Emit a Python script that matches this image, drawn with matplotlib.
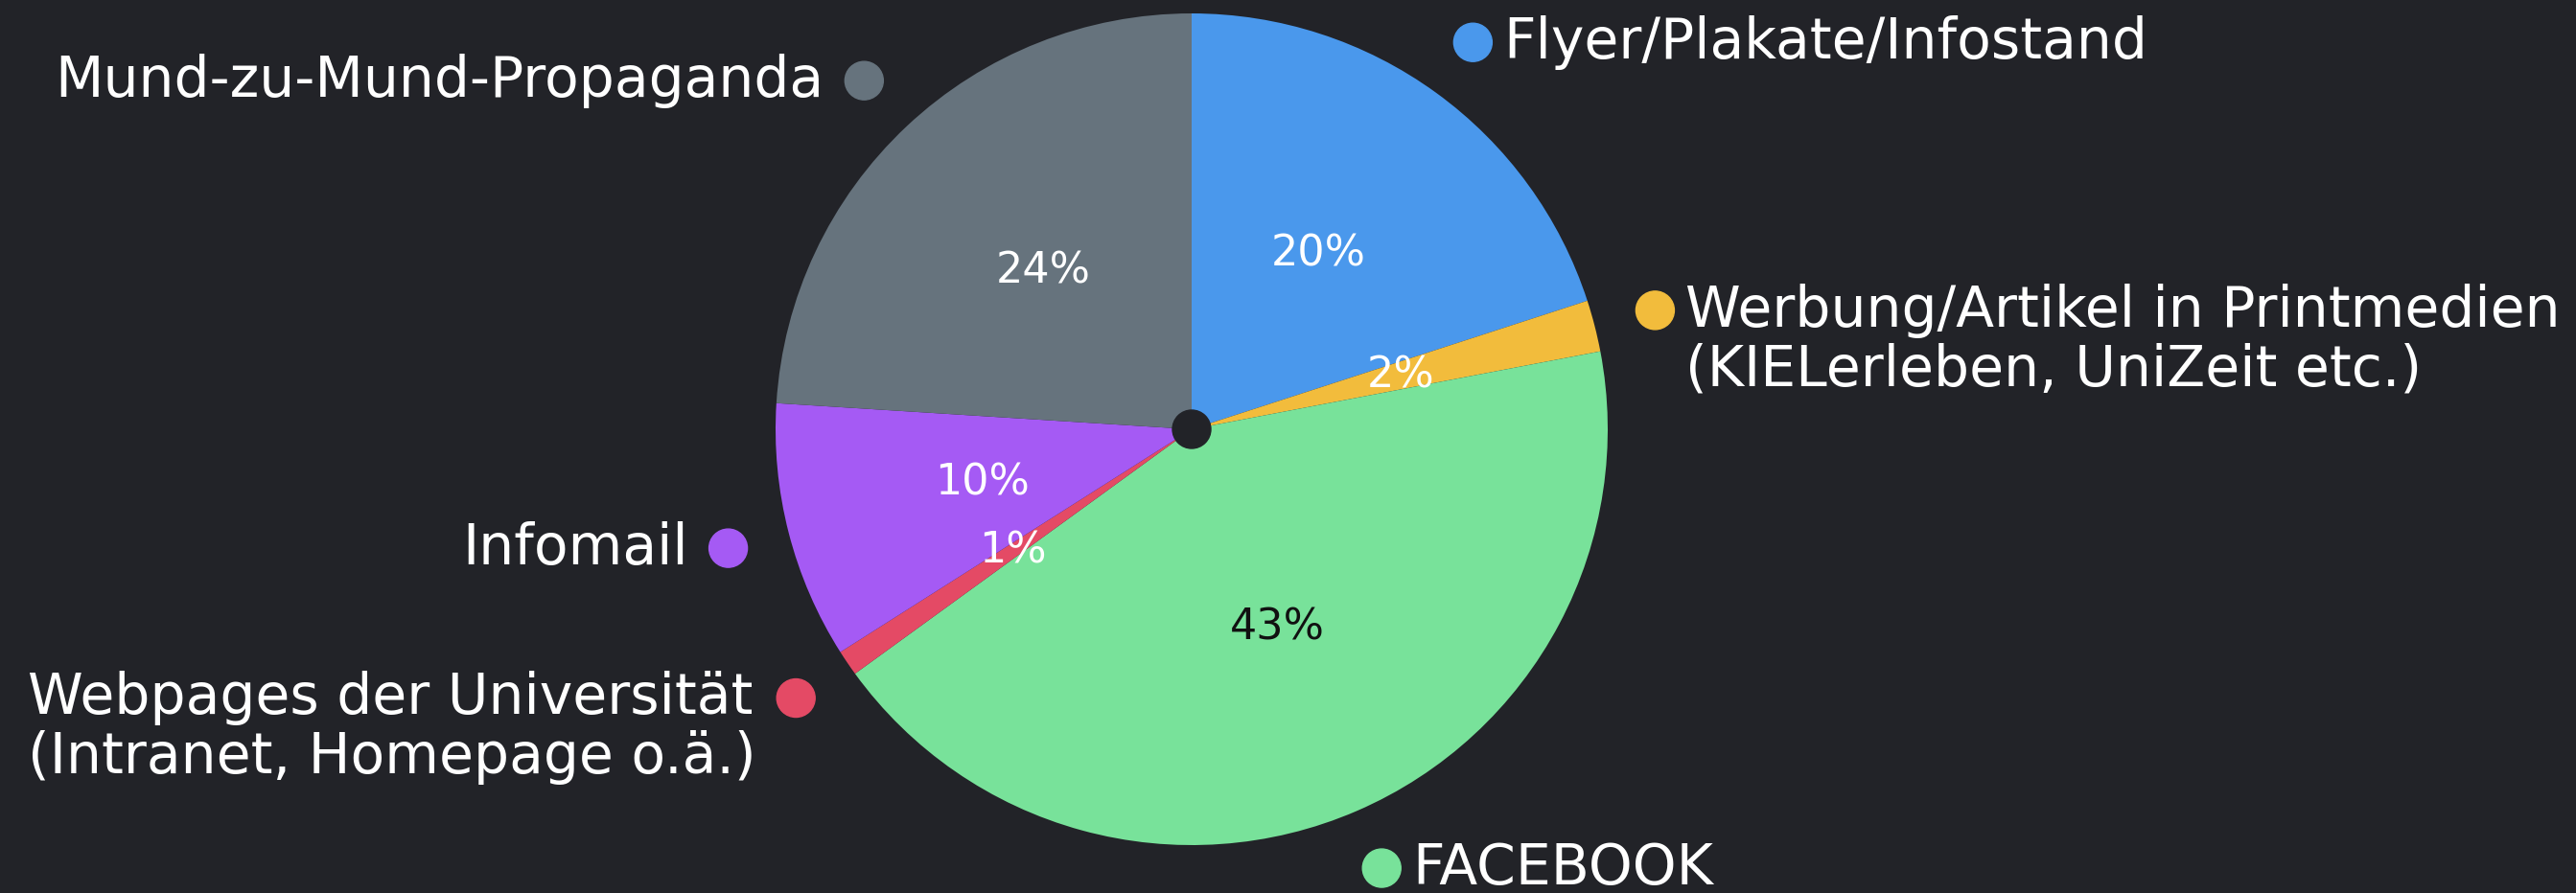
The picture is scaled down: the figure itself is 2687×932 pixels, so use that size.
import numpy as np
import matplotlib
matplotlib.use("Agg")
import matplotlib.pyplot as plt

# ---- data ----
categories = [
    "Flyer/Plakate/Infostand",
    "Werbung/Artikel in Printmedien\n(KIELerleben, UniZeit etc.)",
    "FACEBOOK",
    "Webpages der Universität\n(Intranet, Homepage o.ä.)",
    "Infomail",
    "Mund-zu-Mund-Propaganda",
]
values = [20, 2, 43, 1, 10, 24]
colors = ["#4A98EC", "#F2BC3C", "#78E29A", "#E44A65", "#A55AF4", "#66737D"]
pct_text_colors = ["white", "white", "#111111", "white", "white", "white"]

BG = "#222328"
W, H = 2687, 932
plt.rcParams["font.family"] = ["DejaVu Sans"]

fig = plt.figure(figsize=(W / 100, H / 100), dpi=100, facecolor=BG)
ax = fig.add_axes([0, 0, 1, 1])
ax.set_facecolor(BG)

cx, cy, R = 1243, 484, 434
wedges, texts, autotexts = ax.pie(
    values, colors=colors, startangle=90, counterclock=False,
    center=(cx, cy), radius=R, autopct="%d%%", pctdistance=0.52,
    wedgeprops=dict(linewidth=0), textprops=dict(fontsize=32, color="white"),
)
for t, c in zip(autotexts, pct_text_colors):
    t.set_color(c)

ax.add_patch(plt.Circle((cx, cy), 20, color=BG, zorder=5))

ax.set_xlim(0, W)
ax.set_ylim(0, H)
ax.set_aspect("equal")
ax.axis("off")

# outside labels with coloured dots
for w, lab, col in zip(wedges, categories, colors):
    ang = np.deg2rad((w.theta1 + w.theta2) / 2)
    dx, dy = np.cos(ang), np.sin(ang)
    px, py = cx + 1.15 * R * dx, cy + 1.15 * R * dy
    ax.add_patch(plt.Circle((px, py), 20, color=col, zorder=6, clip_on=False))
    nlines = lab.count("\n") + 1
    yoff = -(nlines - 1) * 31
    if dx >= 0:
        ax.text(px + 32, py + yoff, lab, ha="left", va="center", color="white",
                fontsize=42, multialignment="left", linespacing=1.1)
    else:
        ax.text(px - 42, py + yoff, lab, ha="right", va="center", color="white",
                fontsize=42, multialignment="left", linespacing=1.1)

fig.savefig("out.png", dpi=100, facecolor=BG)
